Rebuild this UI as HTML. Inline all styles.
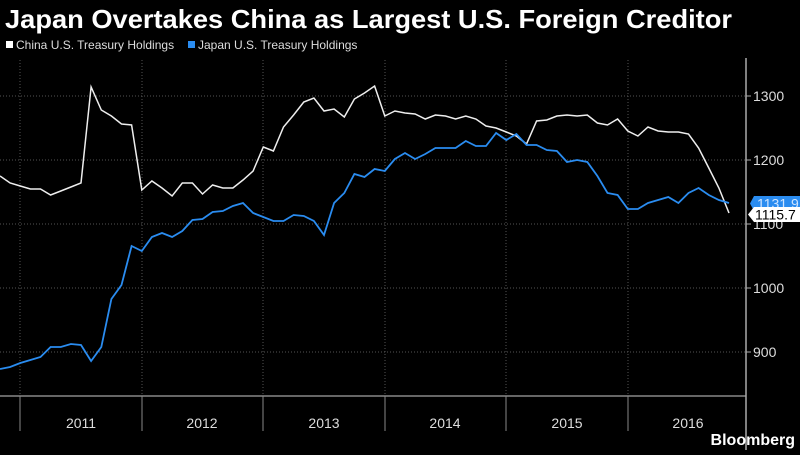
<!DOCTYPE html><html><head><style>body{margin:0;background:#000;width:800px;height:450px;overflow:hidden;font-family:"Liberation Sans",sans-serif}</style></head><body>
<svg width="800" height="450" xmlns="http://www.w3.org/2000/svg" font-family="Liberation Sans, sans-serif">
<rect width="800" height="450" fill="#000"/>
<text x="5" y="28" fill="#fff" font-size="26" font-weight="bold" textLength="727" lengthAdjust="spacingAndGlyphs">Japan Overtakes China as Largest U.S. Foreign Creditor</text>
<rect x="6" y="41" width="7" height="7" fill="#fff"/><text x="16" y="49" fill="#ddd" font-size="12">China U.S. Treasury Holdings</text>
<rect x="188" y="41" width="7" height="7" fill="#2a8cf0"/><text x="198" y="49" fill="#ddd" font-size="12">Japan U.S. Treasury Holdings</text>
<g stroke="#555" stroke-dasharray="1,2" stroke-width="1">
<line x1="0" x2="746" y1="96" y2="96"/><line x1="0" x2="746" y1="160" y2="160"/><line x1="0" x2="746" y1="224" y2="224"/><line x1="0" x2="746" y1="288" y2="288"/><line x1="0" x2="746" y1="352" y2="352"/>
<line x1="20" x2="20" y1="60" y2="396"/><line x1="142" x2="142" y1="60" y2="396"/><line x1="263" x2="263" y1="60" y2="396"/><line x1="385" x2="385" y1="60" y2="396"/><line x1="506" x2="506" y1="60" y2="396"/><line x1="628" x2="628" y1="60" y2="396"/>
</g>
<line x1="0" x2="746" y1="396" y2="396" stroke="#888" stroke-width="1.5"/>
<line x1="746" x2="746" y1="58" y2="450" stroke="#aaa" stroke-width="1.5"/>
<g stroke="#888"><line x1="20" x2="20" y1="396" y2="431"/><line x1="142" x2="142" y1="396" y2="431"/><line x1="263" x2="263" y1="396" y2="431"/><line x1="385" x2="385" y1="396" y2="431"/><line x1="506" x2="506" y1="396" y2="431"/><line x1="628" x2="628" y1="396" y2="431"/></g>
<g id="mt" stroke="#888"></g>
<g fill="#ddd" font-size="14" text-anchor="middle"><text x="81" y="428">2011</text><text x="202" y="428">2012</text><text x="324" y="428">2013</text><text x="445" y="428">2014</text><text x="567" y="428">2015</text><text x="688" y="428">2016</text></g>
<g fill="#ddd" font-size="14"><text x="753" y="101">1300</text><text x="753" y="165">1200</text><text x="753" y="229">1100</text><text x="753" y="293">1000</text><text x="753" y="357">900</text></g>
<g stroke="#aaa"><line x1="746" x2="751" y1="96" y2="96"/><line x1="746" x2="751" y1="160" y2="160"/><line x1="746" x2="751" y1="224" y2="224"/><line x1="746" x2="751" y1="288" y2="288"/><line x1="746" x2="751" y1="352" y2="352"/></g>
<polyline id="c" fill="none" stroke="#eee" stroke-width="1.5"/>
<polyline id="j" fill="none" stroke="#2a8cf0" stroke-width="1.8"/>
<path d="M754 196 H800 V211 H754 L750 203.5Z" fill="#2a8cf0"/><text x="757" y="208.5" fill="#cfe4ff" font-size="14">1131.9</text>
<path d="M754 207 H800 V222 H754 L748 214.5Z" fill="#fff"/><text x="755" y="219.5" fill="#000" font-size="14">1115.7</text>
<text x="795" y="445" fill="#fff" font-size="16" font-weight="bold" text-anchor="end">Bloomberg</text>
<script>
var c=[176,183,186,189,189,195,191,187,183,87,110,116,124,125,190,181,188,196,183,183,194,185,188,188,180,171,147,151,127,115,102,98,111,109,117,99,93,86,116,111,113,114,119,115,116,119,116,119,126,128,132,136,144,121,120,116,115,116,115,123,125,119,131,136,127,131,132,132,134,148,168,188,213];
var j=[369,367,363,360,357,347,347,344,345,361,347,299,285,246,251,237,233,237,231,220,219,212,211,206,203,213,217,221,221,215,216,221,235,203,193,174,177,169,171,159,153,159,154,148,148,148,141,146,146,133,140,134,145,145,150,151,162,160,162,176,193,195,209,209,203,200,197,203,193,188,195,200,203];
function p(a){return a.map(function(y,i){return (i*729/72).toFixed(1)+","+y}).join(" ")}
document.getElementById("c").setAttribute("points",p(c));
document.getElementById("j").setAttribute("points",p(j));
var g=document.getElementById("mt"),s="";
for(var y=0;y<6;y++)for(var q=1;q<4;q++){var x=20+y*121.6+q*30.4;s+='<line x1="'+x+'" x2="'+x+'" y1="396" y2="400"/>';}
g.innerHTML=s;
</script>
</svg></body></html>
